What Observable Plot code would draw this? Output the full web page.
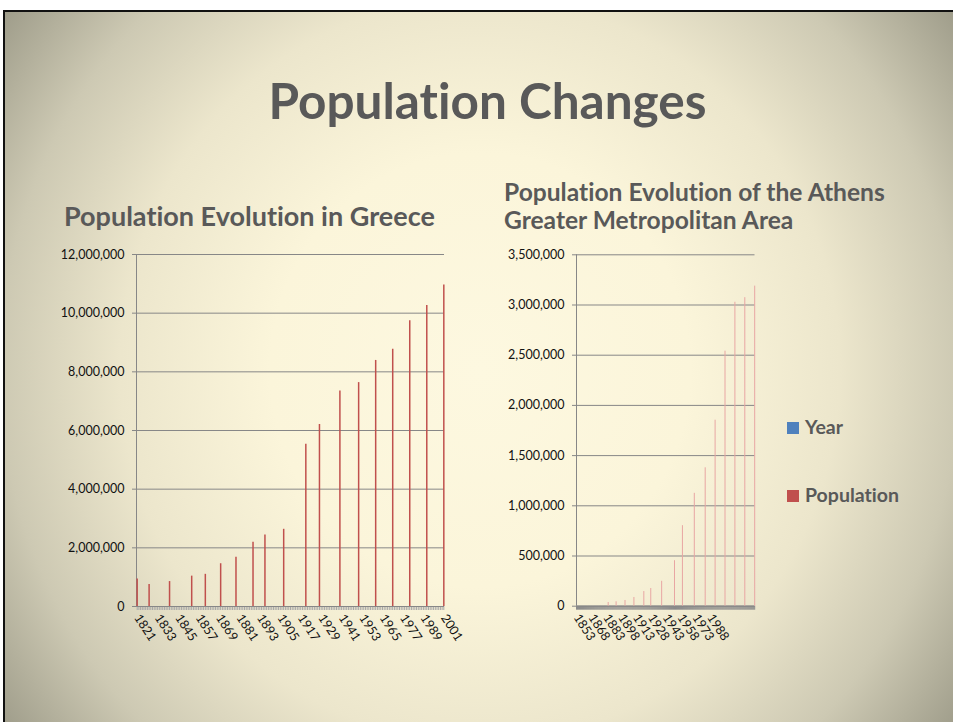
<!DOCTYPE html>
<html><head><meta charset="utf-8">
<script src="https://cdn.jsdelivr.net/npm/d3@7"></script>
<script src="https://cdn.jsdelivr.net/npm/@observablehq/plot@0.6"></script>
<style>
html,body{margin:0;padding:0;background:#fff;overflow:hidden;width:953px;height:722px;}
#page{position:relative;width:953px;height:722px;overflow:hidden;font-family:Lato,"Open Sans",sans-serif;font-variant-ligatures:none;
 background:
  linear-gradient(#111,#111) 3px 10px/950px 2px no-repeat,
  linear-gradient(#111,#111) 3px 10px/2px 712px no-repeat,
  linear-gradient(#fff,#fff) 0 0/953px 10px no-repeat,
  linear-gradient(#fff,#fff) 0 0/3px 722px no-repeat,
  radial-gradient(600px 620px at 480px 370px,#fdf8e0 0%,#fbf5da 35%,#ece6cc 60%,#cdc9b3 80%,#9a9886 100%);}
.t{position:absolute;color:#595959;font-weight:700;white-space:nowrap;}
#title{left:0;width:975px;text-align:center;top:70px;font-size:49.5px;}
#sub1{left:64px;top:199px;font-size:27px;}
#sub2{left:504px;top:178px;font-size:24.6px;line-height:28px;}
.chart{position:absolute;}
.leg{position:absolute;left:787px;font-size:19.5px;font-weight:700;color:#595959;}
.leg span{display:inline-block;width:12px;height:12px;margin-right:6px;vertical-align:0px;}
</style></head>
<body><div id="page">
<div class="t" id="title">Population Changes</div>
<div class="t" id="sub1">Population Evolution in Greece</div>
<div class="t" id="sub2">Population Evolution of the Athens<br>Greater Metropolitan Area</div>
<div class="chart" id="c1" style="left:60px;top:240px"></div>
<div class="chart" id="c2" style="left:500px;top:240px"></div>
<div class="leg" style="top:415px"><span style="background:#4F81BD"></span>Year</div>
<div class="leg" style="top:483px"><span style="background:#C0504D"></span>Population</div>
</div>
<script>
// Greece census
const greeceYears = [1821,1828,1840,1853,1861,1870,1879,1889,1896,1907,1920,1928,1940,1951,1961,1971,1981,1991,2001];
const greecePop = [938765,753400,850246,1035527,1096810,1457894,1679470,2187208,2433806,2631952,5531474,6204684,7344860,7632801,8388553,8768641,9740417,10259900,10964020];
const greeceTickYears = [1821,1833,1845,1857,1869,1881,1893,1905,1917,1929,1941,1953,1965,1977,1989,2001];
const greeceYTicks = [0,2000000,4000000,6000000,8000000,10000000,12000000];

// Athens metropolitan area
const athensYears = [1853,1861,1870,1879,1889,1896,1907,1920,1928,1940,1951,1961,1971,1981,1991,2001];
const athensPop = [37000,44000,57000,87000,146000,176000,248000,453042,802000,1124109,1378586,1852709,2540241,3027331,3072922,3187734];
const athensCategoryStart = 1821; // first category of the axis
const athensTickLabels = ["1853","1868","1883","1898","1913","1928","1943","1958","1973","1988"];
const athensYTicks = [0,500000,1000000,1500000,2000000,2500000,3000000,3500000];

const greece = greeceYears.map((y,i)=>({year:y, pop:greecePop[i]}));
const athens = athensYears.map((y,i)=>({cat:y-athensCategoryStart, pop:athensPop[i]}));

const axisColor = "#878787";
const fmt = d3.format(",");
const baseStyle = {background:"transparent", fontFamily:"Lato, 'Open Sans', sans-serif", fontSize:"12.5px", color:"#111", overflow:"visible"};

const c1 = Plot.plot({
  width:400, height:430, marginLeft:76, marginRight:16, marginTop:14, marginBottom:64,
  style: baseStyle,
  x:{domain:[1820.6,2001.4], axis:null},
  y:{domain:[0,12000000], axis:null},
  marks:[
    Plot.gridY(greeceYTicks, {stroke:axisColor, strokeOpacity:1}),
    Plot.axisY(greeceYTicks, {tickFormat:fmt, tickSize:4, tickPadding:8, stroke:axisColor, label:null}),
    Plot.axisX(d3.range(1821,2002), {tickSize:4, tickFormat:()=>"", stroke:"#a8a8a8", label:null}),
    Plot.axisX(greeceTickYears, {tickSize:0, tickPadding:9, tickRotate:57, tickFormat:d=>String(d), label:null}),
    Plot.ruleX([1820.6], {stroke:axisColor}),
    Plot.ruleY([0], {stroke:axisColor}),
    Plot.ruleX(greece, {x:"year", y1:0, y2:"pop", stroke:"#C0504D", strokeWidth:1.5})
  ]
});
document.getElementById("c1").appendChild(c1);

const c2 = Plot.plot({
  width:280, height:430, marginLeft:76, marginRight:25.5, marginTop:14.3, marginBottom:64.3,
  style: baseStyle,
  x:{domain:[0,180.3], axis:null},
  y:{domain:[0,3500000], axis:null},
  marks:[
    Plot.gridY(athensYTicks, {stroke:axisColor, strokeOpacity:1}),
    Plot.axisY(athensYTicks, {tickFormat:fmt, tickSize:4, tickPadding:8, stroke:axisColor, label:null}),
    Plot.axisX(d3.range(0,181), {tickSize:4, tickFormat:()=>"", stroke:"#8a8a8a", label:null}),
    Plot.axisX(athensTickLabels.map((_,i)=>i*15), {tickSize:0, tickPadding:9, tickRotate:57, tickFormat:(d)=>athensTickLabels[d/15], label:null}),
    Plot.ruleX([0], {stroke:axisColor}),
    Plot.ruleY([0], {stroke:axisColor}),
    Plot.ruleX(athens, {x:"cat", y1:0, y2:"pop", stroke:"#E8A6A3", strokeWidth:1})
  ]
});
document.getElementById("c2").appendChild(c2);
</script>
</body></html>
